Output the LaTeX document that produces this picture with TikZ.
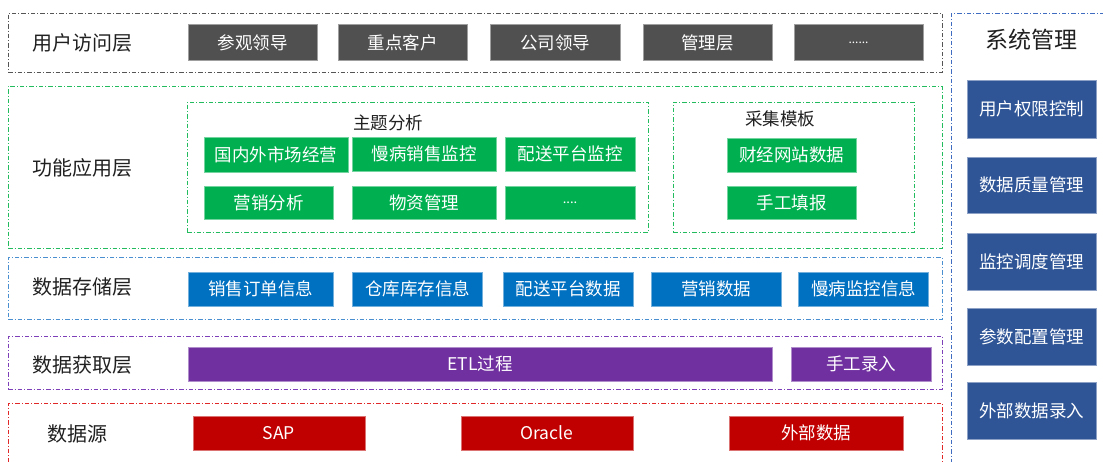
\documentclass[tikz,border=0pt]{standalone}
\usepackage{fontspec}
\setmainfont{Noto Sans CJK SC}
\usetikzlibrary{fit}

\definecolor{cGray}{HTML}{505050}
\definecolor{cGreen}{HTML}{00B050}
\definecolor{cBlue}{HTML}{0070C0}
\definecolor{cPurple}{HTML}{7030A0}
\definecolor{cRed}{HTML}{C00000}
\definecolor{cSys}{HTML}{2F5597}
\definecolor{cText}{HTML}{202020}
\definecolor{lGray}{HTML}{555555}
\definecolor{lGreen}{HTML}{22BB5E}
\definecolor{lBlue}{HTML}{4A8FD0}
\definecolor{lPurple}{HTML}{7E40B8}
\definecolor{lRed}{HTML}{E02828}
\definecolor{lSys}{HTML}{3F6BC0}

\tikzset{
  layer/.style={draw=#1, line width=0.85pt, inner sep=0pt,
    dash pattern=on 4.5pt off 2pt on 1pt off 2pt},
  cell/.style={fill=#1, draw=#1!55!white, line width=0.6pt, inner sep=0pt,
    text=white, font=\fontsize{17.5}{20}\selectfont},
  layertitle/.style={text=cText, font=\fontsize{20}{23}\selectfont},
  subtitle/.style={text=cText, font=\fontsize{17.5}{20}\selectfont},
}

% filled box given by its corners: name, x1, y1, x2, y2, style, text
\newcommand\cellbox[7]{%
  \node[#6, minimum width={(#4)-(#2)}, minimum height={(#5)-(#3)}]
    (#1) at ({((#2)+(#4))/2},{((#3)+(#5))/2}) {#7};}

\begin{document}
\begin{tikzpicture}[x=1pt, y=-1pt]
\useasboundingbox (0,0) rectangle (1103,461);

% layer frames
\node[layer=lGray,   fit={(8,13) (942,72)}]    (fUser)  {};
\node[layer=lGreen,  fit={(8,86) (942,248)}]   (fFunc)  {};
\node[layer=lBlue,   fit={(8,257) (942,319)}]  (fStore) {};
\node[layer=lPurple, fit={(8,336) (942,389)}]  (fAcq)   {};
\node[layer=lRed,    fit={(8,403) (942,475)}]  (fSrc)   {};
\node[layer=lSys,    fit={(951,13) (1110,475)}] (fSys)  {};
\node[layer=lGreen,  fit={(187,102) (648,232)}] (fTheme)   {};
\node[layer=lGreen,  fit={(673,102) (914,232)}] (fCollect) {};

% layer titles
\node[layertitle] (tUser)  at (82,43)  {用户访问层};
\node[layertitle] (tFunc)  at (82,168) {功能应用层};
\node[layertitle] (tStore) at (82,287) {数据存储层};
\node[layertitle] (tAcq)   at (82,365) {数据获取层};
\node[layertitle] (tSrc)   at (77,434) {数据源};
\node[text=cText, font=\fontsize{23}{26}\selectfont] (tSys) at (1031.5,40) {系统管理};
\node[subtitle] (tTheme)   at (388,123) {主题分析};
\node[subtitle] (tCollect) at (780,119) {采集模板};

% user access layer
\cellbox{u1}{188}{24.5}{317}{60.5}{cell=cGray}{参观领导}
\cellbox{u2}{338}{24.5}{467}{60.5}{cell=cGray}{重点客户}
\cellbox{u3}{490}{24.5}{620}{60.5}{cell=cGray}{公司领导}
\cellbox{u4}{643}{24.5}{772}{60.5}{cell=cGray}{管理层}
\cellbox{u5}{794}{24.5}{923}{60.5}{cell=cGray, font=\fontsize{12}{14}\selectfont}{......}

% function layer: topic analysis
\cellbox{g1}{204}{137}{348}{172}{cell=cGreen}{国内外市场经营}
\cellbox{g2}{352}{137}{496}{171}{cell=cGreen}{慢病销售监控}
\cellbox{g3}{505}{137}{635}{171}{cell=cGreen}{配送平台监控}
\cellbox{g4}{204}{186}{333}{219}{cell=cGreen}{营销分析}
\cellbox{g5}{352}{186}{496}{219}{cell=cGreen}{物资管理}
\cellbox{g6}{505}{186}{635}{219}{cell=cGreen, font=\fontsize{13}{15}\selectfont}{....}

% function layer: collection templates
\cellbox{c1}{727}{138}{856}{172}{cell=cGreen}{财经网站数据}
\cellbox{c2}{727}{186}{856}{219}{cell=cGreen}{手工填报}

% storage layer
\cellbox{s1}{188}{272}{333}{306}{cell=cBlue}{销售订单信息}
\cellbox{s2}{352.5}{272}{482.5}{306}{cell=cBlue}{仓库库存信息}
\cellbox{s3}{503.5}{272}{633}{306}{cell=cBlue}{配送平台数据}
\cellbox{s4}{651.5}{272}{781}{306}{cell=cBlue}{营销数据}
\cellbox{s5}{798.5}{272}{928.5}{306}{cell=cBlue}{慢病监控信息}

% acquisition layer
\cellbox{a1}{188}{347}{772}{381}{cell=cPurple}{ETL过程}
\cellbox{a2}{791.5}{347}{931}{381}{cell=cPurple}{手工录入}

% data sources
\cellbox{d1}{193}{416}{365}{450}{cell=cRed}{SAP}
\cellbox{d2}{461}{416}{633}{450}{cell=cRed}{Oracle}
\cellbox{d3}{729}{416}{903}{450}{cell=cRed}{外部数据}

% system management
\cellbox{m1}{967}{80}{1096}{138}{cell=cSys}{用户权限控制}
\cellbox{m2}{967}{157}{1096}{213}{cell=cSys}{数据质量管理}
\cellbox{m3}{967}{233}{1096}{290}{cell=cSys}{监控调度管理}
\cellbox{m4}{967}{308}{1096}{365}{cell=cSys}{参数配置管理}
\cellbox{m5}{967}{382}{1096}{439}{cell=cSys}{外部数据录入}
\end{tikzpicture}
\end{document}
